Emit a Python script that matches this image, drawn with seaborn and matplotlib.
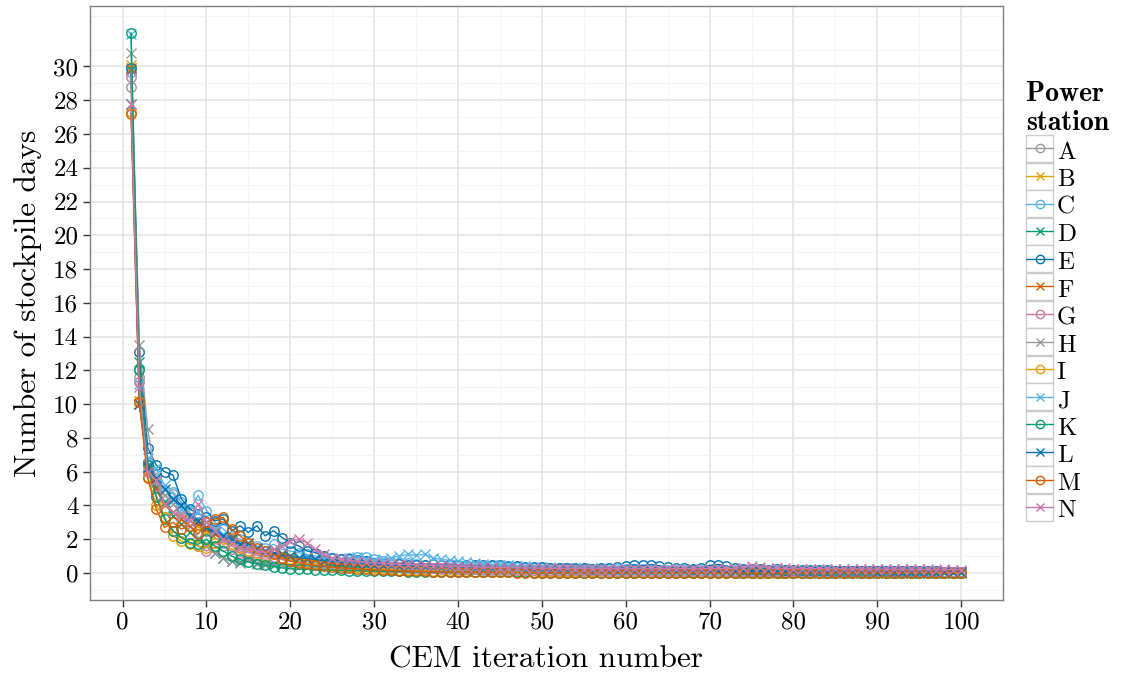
import numpy as np
import pandas as pd
import matplotlib
matplotlib.use("Agg")
import matplotlib.pyplot as plt
import seaborn as sns
from matplotlib.legend_handler import HandlerLine2D
from matplotlib.patches import Rectangle
from matplotlib.lines import Line2D

# ---------------- data ----------------
iterations = list(range(1, 101))
stations = ["A", "B", "C", "D", "E", "F", "G", "H", "I", "J", "K", "L", "M", "N"]

A = [28.8, 11.6, 6.6, 5.6, 4.9, 4.7, 3.9, 3.6, 3.0, 2.5,
     2.1, 1.8, 1.6, 1.3, 1.2, 1.05, 0.95, 0.9, 0.8, 0.72,
     0.66, 0.62, 0.55, 0.52, 0.5, 0.46, 0.44, 0.46, 0.4, 0.36,
     0.35, 0.31, 0.34, 0.3, 0.28, 0.26, 0.29, 0.24, 0.22, 0.25,
     0.21, 0.22, 0.19, 0.18, 0.2, 0.16, 0.17, 0.15, 0.16, 0.13,
     0.14, 0.12, 0.13, 0.11, 0.12, 0.1, 0.11, 0.12, 0.1, 0.09,
     0.1, 0.09, 0.1, 0.08, 0.09, 0.1, 0.08, 0.07, 0.08, 0.07,
     0.07, 0.08, 0.06, 0.06, 0.07, 0.05, 0.06, 0.06, 0.05, 0.05,
     0.05, 0.04, 0.05, 0.05, 0.04, 0.04, 0.04, 0.03, 0.04, 0.04,
     0.03, 0.03, 0.03, 0.03, 0.02, 0.03, 0.03, 0.02, 0.02, 0.02]
B = [30.1, 10.2, 6.1, 4.9, 4.1, 3.6, 3.2, 3.4, 2.8, 2.4,
     2.5, 2.2, 1.9, 1.6, 1.7, 1.4, 1.3, 1.4, 1.2, 1.0,
     0.95, 0.9, 0.82, 0.75, 0.7, 0.66, 0.6, 0.58, 0.52, 0.5,
     0.47, 0.45, 0.42, 0.44, 0.4, 0.37, 0.35, 0.36, 0.32, 0.3,
     0.3, 0.28, 0.29, 0.26, 0.25, 0.24, 0.25, 0.22, 0.21, 0.22,
     0.2, 0.19, 0.2, 0.18, 0.17, 0.18, 0.16, 0.17, 0.15, 0.16,
     0.15, 0.16, 0.14, 0.15, 0.13, 0.14, 0.13, 0.12, 0.13, 0.12,
     0.12, 0.11, 0.12, 0.1, 0.11, 0.1, 0.1, 0.09, 0.1, 0.09,
     0.09, 0.08, 0.09, 0.08, 0.08, 0.07, 0.08, 0.07, 0.07, 0.07,
     0.06, 0.07, 0.06, 0.06, 0.06, 0.05, 0.06, 0.05, 0.05, 0.05]
C = [29.7, 12.1, 6.6, 5.5, 4.6, 4.8, 4.2, 3.7, 4.6, 3.7,
     3.0, 2.6, 2.2, 2.0, 1.8, 1.6, 1.5, 1.7, 1.4, 1.3,
     1.2, 1.1, 1.0, 0.95, 0.9, 0.85, 0.9, 0.92, 0.95, 0.8,
     0.7, 0.65, 0.6, 0.62, 0.55, 0.5, 0.52, 0.48, 0.5, 0.45,
     0.42, 0.4, 0.38, 0.4, 0.36, 0.34, 0.35, 0.32, 0.3, 0.31,
     0.28, 0.27, 0.28, 0.25, 0.24, 0.25, 0.23, 0.22, 0.23, 0.21,
     0.22, 0.2, 0.21, 0.19, 0.2, 0.18, 0.19, 0.17, 0.18, 0.16,
     0.17, 0.16, 0.15, 0.16, 0.14, 0.15, 0.14, 0.13, 0.14, 0.12,
     0.13, 0.12, 0.12, 0.11, 0.12, 0.11, 0.1, 0.11, 0.1, 0.1,
     0.1, 0.09, 0.1, 0.09, 0.09, 0.08, 0.09, 0.08, 0.08, 0.08]
D = [29.8, 12.5, 6.4, 5.1, 4.2, 3.4, 2.9, 2.4, 2.0, 1.7,
     1.2, 0.9, 0.7, 0.65, 0.8, 0.6, 0.55, 0.5, 0.45, 0.42,
     0.4, 0.36, 0.38, 0.33, 0.32, 0.3, 0.28, 0.29, 0.25, 0.24,
     0.22, 0.23, 0.2, 0.19, 0.2, 0.17, 0.16, 0.17, 0.15, 0.14,
     0.13, 0.14, 0.12, 0.11, 0.12, 0.1, 0.1, 0.11, 0.09, 0.08,
     0.09, 0.08, 0.07, 0.08, 0.07, 0.06, 0.07, 0.06, 0.05, 0.06,
     0.05, 0.06, 0.04, 0.05, 0.04, 0.05, 0.04, 0.03, 0.04, 0.03,
     0.04, 0.03, 0.03, 0.02, 0.03, 0.02, 0.03, 0.02, 0.02, 0.03,
     0.02, 0.02, 0.01, 0.02, 0.02, 0.01, 0.02, 0.01, 0.01, 0.02,
     0.01, 0.01, 0.02, 0.01, 0.01, 0.01, 0.01, 0.01, 0.01, 0.01]
E = [29.9, 13.1, 7.4, 6.4, 6.0, 5.8, 4.4, 3.8, 3.5, 3.3,
     3.1, 3.2, 2.5, 2.8, 2.4, 2.8, 2.2, 2.5, 2.1, 1.8,
     1.6, 1.3, 1.2, 1.0, 0.9, 0.85, 0.8, 0.75, 0.7, 0.62,
     0.6, 0.55, 0.52, 0.5, 0.48, 0.5, 0.55, 0.5, 0.52, 0.48,
     0.5, 0.45, 0.48, 0.5, 0.45, 0.42, 0.4, 0.38, 0.35, 0.33,
     0.3, 0.32, 0.3, 0.28, 0.3, 0.26, 0.28, 0.3, 0.35, 0.4,
     0.48, 0.45, 0.5, 0.42, 0.35, 0.3, 0.28, 0.26, 0.3, 0.45,
     0.5, 0.4, 0.3, 0.26, 0.24, 0.22, 0.2, 0.21, 0.19, 0.18,
     0.17, 0.16, 0.15, 0.15, 0.14, 0.13, 0.13, 0.12, 0.12, 0.11,
     0.11, 0.1, 0.1, 0.1, 0.09, 0.09, 0.09, 0.08, 0.08, 0.08]
F = [29.9, 10.0, 6.2, 5.0, 4.0, 3.6, 3.2, 2.8, 2.9, 2.6,
     2.3, 2.0, 2.1, 1.8, 1.5, 1.4, 1.3, 1.1, 1.0, 0.95,
     0.9, 0.82, 0.78, 0.7, 0.65, 0.6, 0.58, 0.55, 0.5, 0.48,
     0.45, 0.42, 0.4, 0.38, 0.36, 0.34, 0.33, 0.31, 0.3, 0.28,
     0.27, 0.26, 0.25, 0.24, 0.23, 0.22, 0.22, 0.2, 0.2, 0.19,
     0.18, 0.18, 0.17, 0.16, 0.16, 0.15, 0.15, 0.14, 0.14, 0.13,
     0.13, 0.12, 0.13, 0.11, 0.12, 0.11, 0.1, 0.11, 0.1, 0.09,
     0.1, 0.09, 0.09, 0.08, 0.09, 0.08, 0.08, 0.07, 0.08, 0.07,
     0.07, 0.06, 0.07, 0.06, 0.06, 0.05, 0.06, 0.05, 0.05, 0.05,
     0.04, 0.05, 0.04, 0.04, 0.04, 0.04, 0.03, 0.04, 0.03, 0.03]
G = [29.4, 11.3, 6.0, 4.6, 3.3, 2.5, 2.1, 1.8, 1.6, 1.3,
     1.5, 1.6, 1.4, 1.2, 1.0, 0.9, 1.1, 0.95, 0.8, 0.7,
     0.68, 0.62, 0.58, 0.55, 0.5, 0.52, 0.48, 0.45, 0.42, 0.4,
     0.38, 0.36, 0.35, 0.33, 0.32, 0.3, 0.3, 0.28, 0.27, 0.26,
     0.25, 0.24, 0.24, 0.22, 0.22, 0.21, 0.2, 0.2, 0.19, 0.18,
     0.18, 0.17, 0.17, 0.16, 0.16, 0.15, 0.15, 0.14, 0.14, 0.14,
     0.13, 0.13, 0.12, 0.13, 0.12, 0.12, 0.11, 0.12, 0.11, 0.11,
     0.1, 0.11, 0.1, 0.1, 0.09, 0.1, 0.09, 0.09, 0.08, 0.09,
     0.08, 0.08, 0.08, 0.07, 0.08, 0.07, 0.07, 0.07, 0.06, 0.07,
     0.06, 0.06, 0.06, 0.06, 0.05, 0.06, 0.05, 0.05, 0.05, 0.05]
H = [30.8, 13.5, 8.5, 5.4, 4.6, 4.1, 3.5, 2.8, 2.1, 1.6,
     1.2, 0.9, 0.7, 0.6, 0.75, 0.55, 0.5, 0.6, 0.45, 0.4,
     0.42, 0.38, 0.4, 0.35, 0.33, 0.36, 0.3, 0.32, 0.28, 0.27,
     0.26, 0.28, 0.24, 0.25, 0.22, 0.23, 0.21, 0.2, 0.21, 0.19,
     0.18, 0.19, 0.17, 0.18, 0.16, 0.17, 0.15, 0.16, 0.14, 0.15,
     0.14, 0.13, 0.14, 0.12, 0.13, 0.12, 0.12, 0.11, 0.12, 0.1,
     0.11, 0.1, 0.11, 0.1, 0.1, 0.09, 0.1, 0.09, 0.09, 0.08,
     0.09, 0.08, 0.08, 0.07, 0.08, 0.07, 0.07, 0.07, 0.06, 0.07,
     0.06, 0.06, 0.06, 0.05, 0.06, 0.05, 0.05, 0.05, 0.04, 0.05,
     0.04, 0.05, 0.04, 0.04, 0.04, 0.03, 0.04, 0.03, 0.03, 0.03]
I = [27.3, 10.2, 5.7, 4.0, 3.3, 2.2, 1.9, 1.7, 1.6, 1.5,
     1.8, 2.0, 1.7, 1.5, 1.3, 1.2, 1.0, 1.1, 0.9, 0.8,
     0.7, 0.62, 0.55, 0.5, 0.45, 0.4, 0.36, 0.33, 0.3, 0.27,
     0.25, 0.22, 0.2, 0.18, 0.16, 0.15, 0.13, 0.12, 0.11, 0.1,
     0.09, 0.08, 0.08, 0.07, 0.06, 0.06, 0.05, 0.05, 0.04, 0.04,
     0.04, 0.03, 0.03, 0.03, 0.02, 0.03, 0.02, 0.02, 0.02, 0.02,
     0.02, 0.01, 0.02, 0.01, 0.01, 0.02, 0.01, 0.01, 0.01, 0.01,
     0.01, 0.01, 0.01, 0.0, 0.01, 0.01, 0.0, 0.01, 0.0, 0.0,
     0.01, 0.0, 0.0, 0.0, 0.01, 0.0, 0.0, 0.0, 0.0, 0.0,
     0.0, 0.0, 0.0, 0.0, 0.0, 0.0, 0.0, 0.0, 0.0, 0.0]
J = [31.9, 11.2, 6.8, 6.2, 5.2, 4.3, 3.8, 3.3, 3.6, 3.0,
     2.6, 2.3, 2.0, 1.8, 1.6, 1.5, 1.3, 1.2, 1.1, 1.0,
     0.95, 0.9, 0.85, 0.9, 0.8, 0.85, 0.9, 0.95, 0.85, 0.75,
     0.8, 0.9, 1.0, 1.1, 1.05, 1.1, 0.9, 0.8, 0.75, 0.7,
     0.65, 0.6, 0.55, 0.5, 0.48, 0.45, 0.42, 0.4, 0.38, 0.35,
     0.33, 0.3, 0.32, 0.28, 0.3, 0.27, 0.28, 0.25, 0.26, 0.24,
     0.25, 0.22, 0.24, 0.21, 0.22, 0.2, 0.21, 0.19, 0.2, 0.18,
     0.19, 0.17, 0.18, 0.16, 0.17, 0.15, 0.16, 0.15, 0.14, 0.15,
     0.13, 0.14, 0.13, 0.12, 0.13, 0.12, 0.12, 0.11, 0.12, 0.11,
     0.1, 0.11, 0.1, 0.1, 0.1, 0.09, 0.1, 0.09, 0.09, 0.09]
K = [32.0, 12.0, 6.4, 4.5, 3.2, 2.5, 2.1, 1.8, 1.7, 2.0,
     1.6, 1.3, 1.0, 0.8, 0.65, 0.55, 0.45, 0.38, 0.3, 0.25,
     0.22, 0.24, 0.2, 0.18, 0.17, 0.15, 0.14, 0.13, 0.12, 0.11,
     0.1, 0.09, 0.09, 0.08, 0.07, 0.07, 0.06, 0.06, 0.05, 0.05,
     0.05, 0.04, 0.04, 0.04, 0.03, 0.03, 0.03, 0.03, 0.02, 0.02,
     0.02, 0.02, 0.02, 0.02, 0.01, 0.02, 0.01, 0.01, 0.01, 0.01,
     0.01, 0.01, 0.01, 0.01, 0.01, 0.01, 0.0, 0.01, 0.0, 0.01,
     0.0, 0.0, 0.01, 0.0, 0.0, 0.0, 0.0, 0.0, 0.0, 0.0,
     0.0, 0.0, 0.0, 0.0, 0.0, 0.0, 0.0, 0.0, 0.0, 0.0,
     0.0, 0.0, 0.0, 0.0, 0.0, 0.0, 0.0, 0.0, 0.0, 0.0]
L = [27.8, 10.0, 6.3, 5.6, 5.0, 4.4, 4.0, 3.4, 3.1, 2.7,
     2.4, 2.2, 2.0, 1.7, 1.8, 1.5, 1.3, 1.2, 1.1, 1.0,
     0.9, 0.85, 0.8, 0.72, 0.68, 0.62, 0.6, 0.55, 0.52, 0.5,
     0.48, 0.45, 0.44, 0.42, 0.4, 0.42, 0.38, 0.36, 0.37, 0.34,
     0.33, 0.32, 0.3, 0.31, 0.28, 0.27, 0.28, 0.26, 0.25, 0.24,
     0.23, 0.24, 0.22, 0.21, 0.22, 0.2, 0.21, 0.19, 0.2, 0.18,
     0.19, 0.18, 0.17, 0.18, 0.16, 0.17, 0.15, 0.16, 0.15, 0.14,
     0.15, 0.14, 0.13, 0.14, 0.12, 0.13, 0.12, 0.12, 0.11, 0.12,
     0.11, 0.1, 0.11, 0.1, 0.1, 0.09, 0.1, 0.09, 0.09, 0.08,
     0.09, 0.08, 0.08, 0.08, 0.07, 0.08, 0.07, 0.07, 0.07, 0.07]
M = [27.2, 10.1, 5.6, 3.8, 2.7, 3.0, 2.6, 2.8, 2.3, 3.0,
     3.2, 3.3, 2.6, 2.2, 1.8, 1.5, 1.3, 1.1, 0.9, 0.7,
     0.6, 0.52, 0.45, 0.4, 0.35, 0.3, 0.27, 0.24, 0.21, 0.19,
     0.17, 0.15, 0.13, 0.12, 0.1, 0.09, 0.08, 0.07, 0.06, 0.06,
     0.05, 0.04, 0.04, 0.03, 0.03, 0.03, 0.02, 0.02, 0.02, 0.02,
     0.01, 0.02, 0.01, 0.01, 0.01, 0.01, 0.01, 0.0, 0.01, 0.0,
     0.0, 0.01, 0.0, 0.0, 0.0, 0.0, 0.0, 0.0, 0.0, 0.0,
     0.0, 0.0, 0.0, 0.0, 0.0, 0.0, 0.0, 0.0, 0.0, 0.0,
     0.0, 0.0, 0.0, 0.0, 0.0, 0.0, 0.0, 0.0, 0.0, 0.0,
     0.0, 0.0, 0.0, 0.0, 0.0, 0.0, 0.0, 0.0, 0.0, 0.0]
N = [27.8, 11.0, 6.0, 5.5, 4.1, 3.6, 3.4, 3.1, 4.1, 3.0,
     2.5, 2.0, 1.8, 1.5, 1.4, 1.3, 1.2, 1.4, 1.6, 1.9,
     2.0, 1.8, 1.4, 1.1, 0.9, 0.8, 0.75, 0.7, 0.65, 0.6,
     0.58, 0.55, 0.52, 0.5, 0.48, 0.45, 0.44, 0.42, 0.4, 0.38,
     0.37, 0.36, 0.34, 0.33, 0.32, 0.31, 0.3, 0.3, 0.29, 0.28,
     0.28, 0.27, 0.27, 0.26, 0.26, 0.25, 0.25, 0.26, 0.24, 0.25,
     0.24, 0.25, 0.24, 0.25, 0.24, 0.25, 0.26, 0.24, 0.25, 0.26,
     0.27, 0.26, 0.28, 0.32, 0.4, 0.38, 0.3, 0.28, 0.27, 0.26,
     0.26, 0.25, 0.26, 0.24, 0.25, 0.24, 0.23, 0.24, 0.23, 0.22,
     0.23, 0.22, 0.22, 0.21, 0.22, 0.21, 0.2, 0.21, 0.2, 0.2]

series = {"A": A, "B": B, "C": C, "D": D, "E": E, "F": F, "G": G,
          "H": H, "I": I, "J": J, "K": K, "L": L, "M": M, "N": N}

base_colors = ["#999999", "#E69F00", "#56B4E9", "#009E73", "#0072B2", "#D55E00", "#CC79A7"]
palette = {s: base_colors[i % 7] for i, s in enumerate(stations)}
marker_of = {s: ("o" if i % 2 == 0 else "x") for i, s in enumerate(stations)}

df = pd.DataFrame({
    "iteration": iterations * len(stations),
    "days": sum((series[s] for s in stations), []),
    "station": np.repeat(stations, len(iterations)),
})

# ---------------- style ----------------
sns.set_theme(style="white")
plt.rcParams["font.family"] = ["cmr10", "DejaVu Serif"]
plt.rcParams["axes.unicode_minus"] = False
plt.rcParams["mathtext.fontset"] = "cm"
plt.rcParams["axes.formatter.use_mathtext"] = False
plt.rcParams["text.color"] = "black"
plt.rcParams["axes.labelcolor"] = "black"

fig, ax = plt.subplots(figsize=(11.25, 6.77), dpi=100)
fig.subplots_adjust(left=89.5 / 1125, right=1002.7 / 1125,
                    top=1 - 5.7 / 677, bottom=1 - 600 / 677)

sns.lineplot(data=df, x="iteration", y="days", hue="station",
             hue_order=stations, palette=palette, estimator=None,
             linewidth=1.0, legend=False, ax=ax)

for line, s in zip(ax.lines, stations):
    c = palette[s]
    line.set_marker(marker_of[s])
    line.set_markersize(6.8)
    line.set_markeredgecolor(c)
    line.set_markerfacecolor("none")
    line.set_markeredgewidth(1.0)

ax.set_xlim(-3.95, 104.95)
ax.set_ylim(-1.6, 33.6)
ax.set_xticks(range(0, 101, 10))
ax.set_xticks(range(5, 100, 10), minor=True)
ax.set_yticks(range(0, 31, 2))
ax.set_yticks(range(-1, 34, 2), minor=True)
ax.grid(which="major", color="#e3e3e3", linewidth=1.1)
ax.grid(which="minor", color="#f4f4f4", linewidth=0.7)
ax.set_axisbelow(True)
for sp in ax.spines.values():
    sp.set_color("#7f7f7f")
    sp.set_linewidth(1.0)
ax.tick_params(which="major", direction="out", length=5, width=1.0,
               color="#333333", labelsize=18, labelcolor="black", pad=3,
               bottom=True, left=True)
ax.tick_params(which="minor", length=0)

ax.set_xlabel("CEM iteration number", fontsize=22.5, labelpad=9)
ax.set_ylabel("Number of stockpile days", fontsize=22.5, labelpad=8)


# ---------------- legend ----------------
class BoxedLine(HandlerLine2D):
    def create_artists(self, legend, orig_handle, xdescent, ydescent,
                       width, height, fontsize, trans):
        rect = Rectangle((-xdescent, -ydescent), width, height + ydescent,
                         facecolor="white", edgecolor="#cccccc",
                         linewidth=1.0, transform=trans)
        arts = super().create_artists(legend, orig_handle, xdescent, ydescent,
                                      width, height, fontsize, trans)
        return [rect] + list(arts)


handles = [Line2D([], [], color=palette[s], marker=marker_of[s],
                  markerfacecolor="none", markeredgecolor=palette[s],
                  markersize=6, markeredgewidth=1.0, linewidth=1.0)
           for s in stations]
leg = fig.legend(handles, stations, loc="upper left",
                 bbox_to_anchor=(1026 / 1125, 1 - 81 / 677),
                 bbox_transform=fig.transFigure, frameon=False,
                 title="Power\nstation", alignment="left",
                 title_fontproperties={"family": "cmb10", "size": 20},
                 fontsize=18, numpoints=1, handlelength=1.08,
                 handleheight=1.08, labelspacing=0.09, handletextpad=0.15,
                 borderpad=0, borderaxespad=0,
                 handler_map={Line2D: BoxedLine()})
leg.get_title().set_color("black")
leg.get_title().set_linespacing(1.15)
for t in leg.get_texts():
    t.set_color("black")

fig.savefig("out.png", dpi=100)
